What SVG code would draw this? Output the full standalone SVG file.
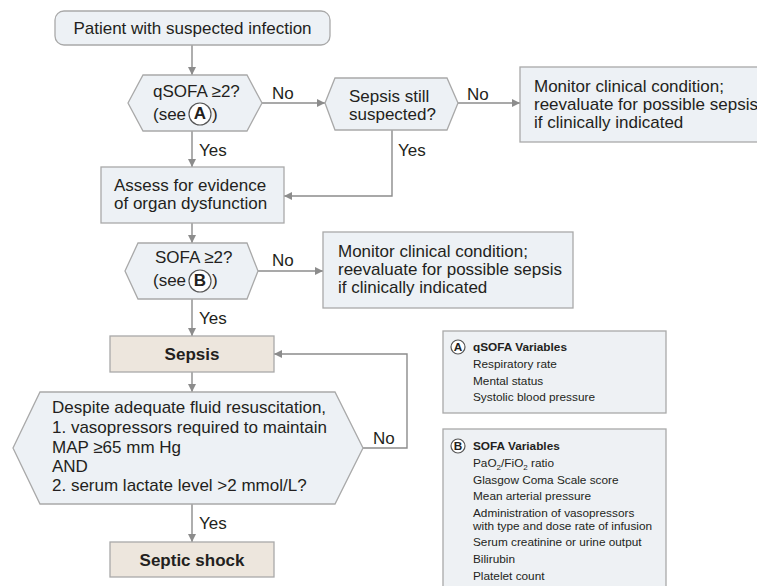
<svg xmlns="http://www.w3.org/2000/svg" width="757" height="586" viewBox="0 0 757 586">
<defs>
<marker id="ah" viewBox="0 0 10 10" refX="10" refY="5" markerWidth="8" markerHeight="8" markerUnits="userSpaceOnUse" orient="auto">
<path d="M0,0 L10,5 L0,10 Z" fill="#8c8c8c"/>
</marker>
<style>
.t{font-family:"Liberation Sans",Arial,sans-serif;font-size:17px;fill:#231f20}
.b{font-weight:bold}
.s{font-family:"Liberation Sans",Arial,sans-serif;font-size:11.8px;fill:#231f20}
.node{fill:#edf1f5;stroke:#a9a9a9;stroke-width:1.3}
.tan{fill:#ede6dd;stroke:#a9a9a9;stroke-width:1.3}
.leg{fill:#eef1f4;stroke:#a9a9a9;stroke-width:1.3}
.c{fill:none;stroke:#8c8c8c;stroke-width:1.4}
.circ{fill:#fff;stroke:#555;stroke-width:1.2}
.lab{font-family:"Liberation Sans",Arial,sans-serif;font-size:17px;fill:#231f20}
</style>
</defs>
<rect width="757" height="586" fill="#fff"/>

<g id="connectors">
<line class="c" x1="192" y1="45" x2="192" y2="75" marker-end="url(#ah)"/>
<line class="c" x1="262" y1="103" x2="325" y2="103" marker-end="url(#ah)"/>
<line class="c" x1="458" y1="103" x2="520" y2="103" marker-end="url(#ah)"/>
<line class="c" x1="192" y1="131" x2="192" y2="167" marker-end="url(#ah)"/>
<polyline class="c" points="392,130 392,196 284,196" marker-end="url(#ah)"/>
<line class="c" x1="192" y1="223" x2="192" y2="243" marker-end="url(#ah)"/>
<line class="c" x1="258" y1="271" x2="323" y2="271" marker-end="url(#ah)"/>
<line class="c" x1="192" y1="299" x2="192" y2="336" marker-end="url(#ah)"/>
<line class="c" x1="192" y1="372" x2="192" y2="392" marker-end="url(#ah)"/>
<polyline class="c" points="363,448 407,448 407,354 274,354" marker-end="url(#ah)"/>
<line class="c" x1="192" y1="504" x2="192" y2="542" marker-end="url(#ah)"/>
<text class="lab" x="272" y="99">No</text>
<text class="lab" x="467" y="100">No</text>
<text class="lab" x="199" y="156">Yes</text>
<text class="lab" x="398" y="156">Yes</text>
<text class="lab" x="272" y="266">No</text>
<text class="lab" x="199" y="324">Yes</text>
<text class="lab" x="373" y="444">No</text>
<text class="lab" x="199" y="529">Yes</text>
</g>

<g id="start">
<rect class="node" x="55" y="11" width="275" height="34" rx="9"/>
<text class="t" x="192.5" y="34" text-anchor="middle">Patient with suspected infection</text>
</g>

<g id="qsofa">
<polygon class="node" points="128,103 143,75 247,75 262,103 247,131 143,131"/>
<text class="t" x="153" y="97">qSOFA ≥2?</text>
<text class="t" x="153" y="120">(see</text>
<circle class="circ" cx="200" cy="114" r="11"/>
<text class="t b" x="200" y="119" text-anchor="middle" font-size="13">A</text>
<text class="t" x="212" y="120">)</text>
</g>

<g id="still">
<polygon class="node" points="325,103 335,78 447,78 458,103 447,130 335,130"/>
<text class="t" x="349" y="102">Sepsis still</text>
<text class="t" x="349" y="120">suspected?</text>
</g>

<g id="monitor1">
<rect class="node" x="520" y="67" width="250" height="75"/>
<text class="t" x="534" y="92" font-size="16.5">Monitor clinical condition;</text>
<text class="t" x="534" y="110" font-size="16.5">reevaluate for possible sepsis</text>
<text class="t" x="534" y="128" font-size="16.5">if clinically indicated</text>
</g>

<g id="assess">
<rect class="node" x="101" y="167" width="183" height="56"/>
<text class="t" x="114" y="191">Assess for evidence</text>
<text class="t" x="114" y="209">of organ dysfunction</text>
</g>

<g id="sofa">
<polygon class="node" points="125,271 138,243 247,243 258,271 247,299 138,299"/>
<text class="t" x="155" y="263">SOFA ≥2?</text>
<text class="t" x="153" y="286">(see</text>
<circle class="circ" cx="200" cy="281" r="11"/>
<text class="t b" x="200" y="286" text-anchor="middle" font-size="13">B</text>
<text class="t" x="212" y="286">)</text>
</g>

<g id="monitor2">
<rect class="node" x="323" y="232" width="250" height="76"/>
<text class="t" x="338" y="257">Monitor clinical condition;</text>
<text class="t" x="338" y="275">reevaluate for possible sepsis</text>
<text class="t" x="338" y="293">if clinically indicated</text>
</g>

<g id="sepsis">
<rect class="tan" x="110" y="336" width="164" height="36"/>
<text class="t b" x="192" y="360" text-anchor="middle">Sepsis</text>
</g>

<g id="shockq">
<polygon class="node" points="13,448 40,392 335,392 363,448 335,504 40,504"/>
<text class="t" x="52" y="413">Despite adequate fluid resuscitation,</text>
<text class="t" x="52" y="433">1. vasopressors required to maintain</text>
<text class="t" x="52" y="453">MAP ≥65 mm Hg</text>
<text class="t" x="52" y="472">AND</text>
<text class="t" x="52" y="491">2. serum lactate level &gt;2 mmol/L?</text>
</g>

<g id="shock">
<rect class="tan" x="110" y="542" width="164" height="35"/>
<text class="t b" x="192" y="566" text-anchor="middle">Septic shock</text>
</g>

<g id="legendA">
<rect class="leg" x="443" y="331" width="223" height="82"/>
<circle class="circ" cx="458" cy="347" r="7"/>
<text class="s b" x="458" y="351" text-anchor="middle" font-size="9">A</text>
<text class="s b" x="473" y="351">qSOFA Variables</text>
<text class="s" x="473" y="368">Respiratory rate</text>
<text class="s" x="473" y="385">Mental status</text>
<text class="s" x="473" y="401">Systolic blood pressure</text>
</g>

<g id="legendB">
<rect class="leg" x="443" y="429" width="223" height="170"/>
<circle class="circ" cx="458" cy="446" r="7"/>
<text class="s b" x="458" y="450" text-anchor="middle" font-size="9">B</text>
<text class="s b" x="473" y="450">SOFA Variables</text>
<text class="s" x="473" y="467">PaO<tspan font-size="8" dy="3">2</tspan><tspan dy="-3">/FiO</tspan><tspan font-size="8" dy="3">2</tspan><tspan dy="-3"> ratio</tspan></text>
<text class="s" x="473" y="484">Glasgow Coma Scale score</text>
<text class="s" x="473" y="500">Mean arterial pressure</text>
<text class="s" x="473" y="517">Administration of vasopressors</text>
<text class="s" x="473" y="530">with type and dose rate of infusion</text>
<text class="s" x="473" y="546">Serum creatinine or urine output</text>
<text class="s" x="473" y="563">Bilirubin</text>
<text class="s" x="473" y="580">Platelet count</text>
</g>
</svg>
